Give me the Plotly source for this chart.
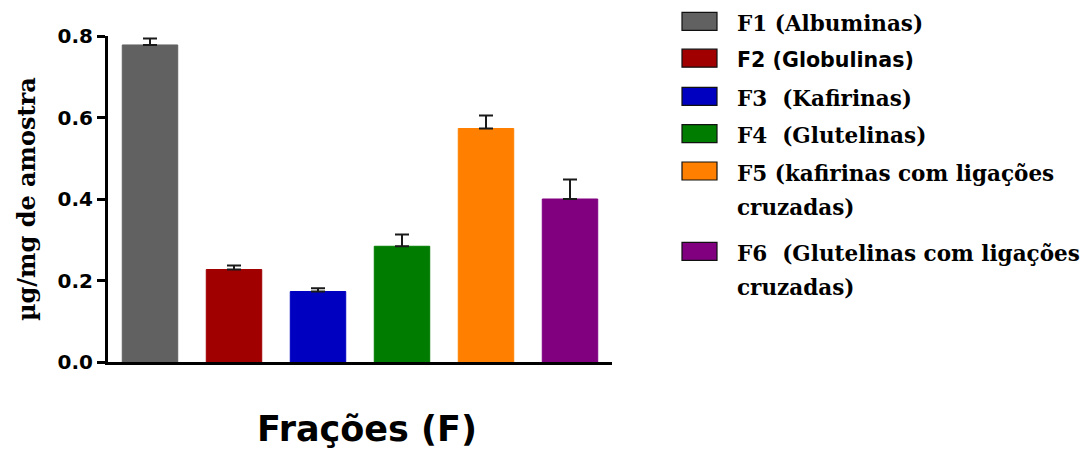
import plotly.graph_objects as go

# Protein fractions (mean and upper SD), µg/mg of sample
fractions = ["F1", "F2", "F3", "F4", "F5", "F6"]
means = [0.778, 0.227, 0.173, 0.284, 0.573, 0.400]
sd_upper = [0.016, 0.010, 0.008, 0.029, 0.032, 0.048]
colors = ["#616161", "#A00000", "#0000C0", "#007D00", "#FF8000", "#800080"]

legend_labels = [
    "F1 (Albuminas)",
    "F2 (Globulinas)",
    "F3\u00a0 (Kafirinas)",
    "F4\u00a0 (Glutelinas)",
    "F5 (kafirinas com ligações\ncruzadas)",
    "F6\u00a0 (Glutelinas com ligações\ncruzadas)",
]
legend_fonts = ["DejaVu Serif", "DejaVu Sans", "DejaVu Serif",
                "DejaVu Serif", "DejaVu Serif", "DejaVu Serif"]
y_ticks = [0.0, 0.2, 0.4, 0.6, 0.8]

W, H = 1089, 454
L, R, T, B = 108, 477, 36, 92
PW, PH = W - L - R, H - T - B


def px_x(px):
    return (px - L) / PW


def px_y(py):
    return (H - B - py) / PH


fig = go.Figure()
fig.add_trace(go.Bar(
    x=fractions,
    y=means,
    marker=dict(color=colors, line=dict(width=1, color=colors)),
    error_y=dict(type="data", array=sd_upper, arrayminus=[0] * len(means),
                 symmetric=False, color="#1a1a1a", thickness=2, width=7),
    showlegend=False,
))

# Custom key on the right: swatch + label
swatch_centers = [21.3, 58.2, 96.3, 133.7, 171.0, 251.3]
line_step = 34
shapes = []
annotations = []
for i, label in enumerate(legend_labels):
    cy = swatch_centers[i]
    shapes.append(dict(
        type="rect", xref="paper", yref="paper",
        x0=px_x(682), x1=px_x(717), y0=px_y(cy + 9), y1=px_y(cy - 9),
        fillcolor=colors[i], line=dict(color="#111111", width=1.2),
    ))
    size = 20.6 if legend_fonts[i] == "DejaVu Sans" else 21.5
    for j, line in enumerate(label.split("\n")):
        annotations.append(dict(
            text="<b>%s</b>" % line, xref="paper", yref="paper",
            x=px_x(735), y=px_y(cy + 2 + j * line_step),
            xanchor="left", yanchor="middle", showarrow=False,
            font=dict(family=legend_fonts[i], size=size, color="black"),
        ))

# Axis titles
annotations.append(dict(
    text="<b>Frações (F)</b>", xref="paper", yref="paper",
    x=px_x(367), y=px_y(429), xanchor="center", yanchor="middle",
    showarrow=False, font=dict(family="DejaVu Sans", size=35, color="black"),
))
annotations.append(dict(
    text="<b>µg/mg de amostra</b>", xref="paper", yref="paper",
    x=px_x(26), y=px_y(199), xanchor="center", yanchor="middle",
    textangle=-90, showarrow=False,
    font=dict(family="DejaVu Serif", size=24, color="black"),
))

fig.update_layout(
    width=W, height=H,
    margin=dict(l=L, r=R, t=T, b=B, pad=0),
    paper_bgcolor="white", plot_bgcolor="white",
    bargap=0.34,
    shapes=shapes,
    annotations=annotations,
    xaxis=dict(
        showticklabels=False, ticks="", showgrid=False, zeroline=False,
        showline=True, linecolor="black", linewidth=3,
        range=[-0.5, 5.5],
    ),
    yaxis=dict(
        range=[0, 0.8], tickvals=y_ticks, tickformat=".1f",
        ticks="outside", ticklen=8, tickwidth=3, tickcolor="black",
        showline=True, linecolor="black", linewidth=3,
        showgrid=False, zeroline=False,
        tickfont=dict(family="DejaVu Sans", size=20, color="black", weight="bold"),
    ),
)

fig.write_html("out.html")
